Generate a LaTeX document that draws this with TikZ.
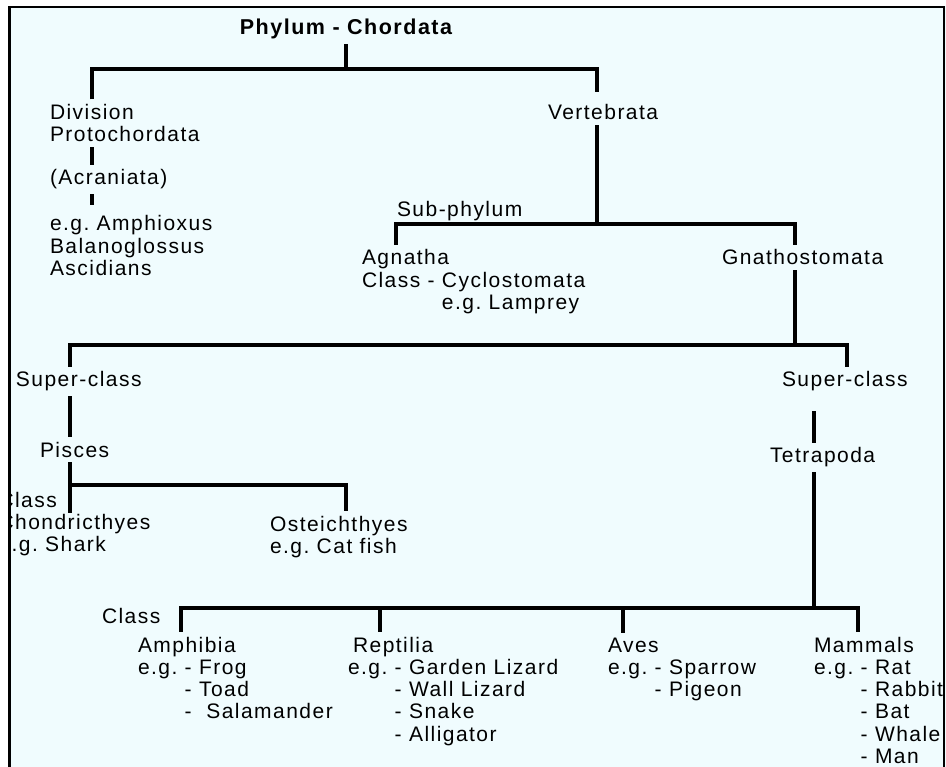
\documentclass[tikz,border=0pt]{standalone}
\usepackage{fontspec}
\setmainfont{Liberation Sans}[LetterSpace=7]
\definecolor{sheet}{RGB}{240,252,254}
\frenchspacing

\begin{document}
\begin{tikzpicture}[x=1pt,y=-1pt,
		taxon/.style={anchor=base west, inner sep=0pt, outer sep=5pt, align=left,
		font=\fontsize{21}{22.3}\selectfont},
		title/.style={taxon, anchor=base, font=\bfseries\fontsize{21.5}{25}\selectfont},
		link/.style={line width=3.2pt},
		frame/.style={line width=2.5pt},
		]

		% multi-line nodes sit on the baseline of their last line
		\def\egs{\phantom{e.g. }}

		\useasboundingbox (0,0) rectangle (946,767);
		\fill[sheet] (9,6) rectangle (946,767);

		\begin{scope}
		\clip (10.5,7) rectangle (943,767);

		\node[title] (phylum)  at (346,35)  {Phylum - Chordata};

		\node[taxon] (divn)    at (45,142)  {Division\\Protochordata};
		\node[taxon] (acran)   at (45,185)  {(Acraniata)};
		\node[taxon] (egproto) at (45,275.6) {e.g. Amphioxus\\Balanoglossus\\Ascidians};
		\node[taxon] (vert)    at (543,120) {Vertebrata};
		\node[taxon] (subphy)  at (392,217) {Sub-phylum};
		\node[taxon] (agna)    at (357,309.6) {Agnatha\\Class - Cyclostomata\\\phantom{Class - }e.g. Lamprey};
		\node[taxon] (gnath)   at (717,265) {Gnathostomata};

		\node[taxon] (sclassl) at (11,387)  {Super-class};
		\node[taxon] (pisces)  at (35,457)  {Pisces};
		\node[taxon] (chond)   at (-6.5,551.6) {Class\\Chondricthyes\\e.g. Shark};
		\node[taxon] (ostei)   at (265,553.3) {Osteichthyes\\e.g. Cat fish};
		\node[taxon] (sclassr) at (777,387) {Super-class};
		\node[taxon] (tetra)   at (765,463) {Tetrapoda};

		\node[taxon] (classlbl) at (97,623) {Class};
		\node[taxon] (amphi)   at (133,718.9) {Amphibia\\e.g. - Frog\\\egs- Toad\\\egs-\ \ Salamander};
		\node[taxon] (repti)   at (343,741.2) {\hspace*{5pt}Reptilia\\e.g. - Garden Lizard\\\egs- Wall Lizard\\\egs- Snake\\\egs- Alligator};
		\node[taxon] (aves)    at (603,696.6) {Aves\\e.g. - Sparrow\\\egs- Pigeon};
		\node[taxon] (mamm)    at (809,763.5) {Mammals\\e.g. - Rat\\\egs- Rabbit\\\egs- Bat\\\egs- Whale\\\egs- Man};

		% bars
		\coordinate (b1l) at (92,69);
		\coordinate (b1r) at (597,69);
		\coordinate (b2l) at (396,224);
		\coordinate (b2r) at (795,224);
		\coordinate (b3l) at (70,345);
		\coordinate (b3r) at (847,345);
		\coordinate (b4r) at (346,485);
		\coordinate (pfoot) at (70,513);
		\coordinate (b5l) at (181,608);
		\coordinate (b5a) at (380,608);
		\coordinate (b5b) at (623,608);
		\coordinate (b5t) at (814,608);
		\coordinate (b5r) at (858,608);

		\draw[link] (phylum.south) -- (phylum.south |- b1l);
		\draw[link] (divn.north -| b1l) -- (b1l) -- (b1r) -- ([yshift=8pt]vert.north -| b1r);
		\draw[link] (divn.south -| b1l) -- (acran.north -| b1l);
		\draw[link] (acran.south -| b1l) -- ([yshift=6pt]egproto.north -| b1l);

		\draw[link] (vert.south -| b1r) -- (b1r |- b2l);
		\draw[link] (agna.north -| b2l) -- (b2l) -- (b2r) -- (gnath.north -| b2r);

		\draw[link] (gnath.south -| b2r) -- (b2r |- b3l);
		\draw[link] (sclassl.north -| b3l) -- (b3l) -- (b3r) -- (sclassr.north -| b3r);
		\draw[link] (sclassl.south -| b3l) -- (pisces.north -| b3l);
		\draw[link] (pisces.south -| b3l) -- (pfoot);
		\draw[link] (b3l |- b4r) -- (b4r) -- (ostei.north -| b4r);

		\draw[link, shorten <=15pt] (sclassr.south -| b5t) -- (tetra.north -| b5t);
		\draw[link] (tetra.south -| b5t) -- (b5t);
		\draw[link] (amphi.north -| b5l) -- (b5l) -- (b5r) -- (mamm.north -| b5r);
		\draw[link] (b5a) -- (repti.north -| b5a);
		\draw[link] (b5b) -- (aves.north -| b5b);
		\end{scope}

		\draw[frame] (9.5,767) -- (9.5,7) -- (944,7) -- (944,767);

	\end{tikzpicture}
\end{document}
